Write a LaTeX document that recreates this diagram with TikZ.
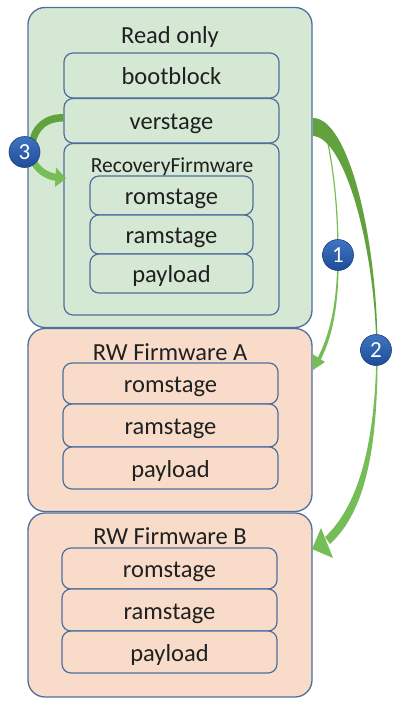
\documentclass[tikz,border=0pt]{standalone}
\usepackage{fontspec}
\setmainfont{Carlito}
\begin{document}
\begin{tikzpicture}[x=1pt,y=-1pt,
  outerbox/.style={draw=boxline, line width=1.3pt, rounded corners=17pt, inner sep=0pt, minimum width=284pt},
  part/.style={draw=boxline, line width=1.2pt, rounded corners=9pt, inner sep=0pt,
     text=txt, font=\fontsize{24.5}{28}\selectfont, text height=18pt, text depth=0pt},
  title/.style={anchor=base, text=txt, inner sep=0pt, font=\fontsize{24.5}{28}\selectfont},
  badge/.style={circle, draw=badgeline, line width=0.6pt, top color=badgetop, bottom color=badgebot,
     minimum size=31pt, inner sep=0pt, text=white, font=\fontsize{23}{24}\selectfont},
  darkarrow/.style={fill=arrdark, draw=none},
  lightarrow/.style={fill=arrlight, draw=none}]
\definecolor{gfill}{HTML}{D5E8D4}
\definecolor{pfill}{HTML}{F8DCC9}
\definecolor{boxline}{HTML}{4E6E9E}
\definecolor{txt}{HTML}{202020}
\definecolor{arrdark}{HTML}{62A23E}
\definecolor{arrlight}{HTML}{76BD57}
\definecolor{badgetop}{HTML}{3F74C2}
\definecolor{badgebot}{HTML}{1E4D98}
\definecolor{badgeline}{HTML}{1D3F7C}
\useasboundingbox (0,0) rectangle (400,707);

% outer regions
\node[outerbox, fill=gfill, minimum height=320pt] (ro) at (170,167.5) {};
\node[outerbox, fill=pfill, minimum height=183pt] (rwa) at (170,420) {};
\node[outerbox, fill=pfill, minimum height=184pt] (rwb) at (170,605) {};
\node[title] (rot) at (170,43) {Read only};
\node[title] (rwat) at (170,360) {RW Firmware A};
\node[title] (rwbt) at (170,544) {RW Firmware B};

% read-only contents
\node[part, fill=gfill, minimum width=215pt, minimum height=45pt] (boot) at (171.5,75.5) {bootblock};
\node[part, fill=gfill, minimum width=215pt, minimum height=44.5pt] (ver) at (171.5,120.75) {verstage};
\node[part, fill=gfill, minimum width=215pt, minimum height=171.5pt] (rec) at (171.5,229.25) {};
\node[title, font=\fontsize{21.5}{24}\selectfont] (rect) at (172,172.7) {RecoveryFirmware};
\node[part, fill=gfill, minimum width=163pt, minimum height=39pt] (rrom) at (171.5,195.5) {romstage};
\node[part, fill=gfill, minimum width=163pt, minimum height=39pt] (rram) at (171.5,234.5) {ramstage};
\node[part, fill=gfill, minimum width=163pt, minimum height=39pt] (rpay) at (171.5,273.5) {payload};

% RW A
\node[part, fill=pfill, minimum width=215pt, minimum height=41pt] (arom) at (170.5,383.5) {romstage};
\node[part, fill=pfill, minimum width=215pt, minimum height=43pt] (aram) at (170.5,425.5) {ramstage};
\node[part, fill=pfill, minimum width=215pt, minimum height=42pt] (apay) at (170.5,468) {payload};

% RW B
\node[part, fill=pfill, minimum width=215pt, minimum height=41pt] (brom) at (169.5,568.5) {romstage};
\node[part, fill=pfill, minimum width=215pt, minimum height=42pt] (bram) at (169.5,610) {ramstage};
\node[part, fill=pfill, minimum width=215pt, minimum height=42pt] (bpay) at (169.5,652) {payload};

% badge positions
\coordinate (b3c) at (24.5,152);
\coordinate (b1c) at (338,255);
\coordinate (b2c) at (376,350);

% arrow 1 (thin)
\draw[arrlight, line width=1.2pt] (326,134) .. controls (334,170) and (338,210) .. (b1c);
\fill[arrlight] (337.3,255) .. controls (337.3,300) and (331,333) .. (316.5,360)
   -- (319.5,362) .. controls (334,335) and (339,300) .. (338.7,255) -- cycle;
\fill[arrlight] (313,370) -- (312.5,354) -- (325,362) -- cycle;

% arrow 2 (thick, tapered)
\fill[darkarrow] (313,118) .. controls (348,118) and (377,235) .. (377.6,350)
   -- (376.4,350) .. controls (375,245) and (344,137) .. (313,136) -- cycle;
\fill[lightarrow] (377.6,350) .. controls (378,450) and (365,512) .. (330,544)
   -- (325,537) .. controls (356,508) and (375.5,450) .. (376.4,350) -- cycle;
\fill[lightarrow] (312,549) -- (321,528) -- (333,558) -- cycle;

% arrow 3 (verstage -> RecoveryFirmware)
\fill[darkarrow] (ver.west |- 0,114) .. controls (45,114) and (32,124) .. (29,142)
   -- (36,142) .. controls (39,129) and (48,121.5) .. (ver.west |- 0,121.5) -- cycle;
\fill[lightarrow] (29,160) .. controls (34,172) and (45,180) .. (57,181)
   -- (57,174) .. controls (47,172.5) and (40,167) .. (36,159) -- cycle;
\fill[lightarrow] (66,178.5) -- (56,167.5) -- (55,187) -- cycle;

% badges
\node[badge] (b3) at (b3c) {3};
\node[badge] (b1) at (b1c) {1};
\node[badge] (b2) at (b2c) {2};
\end{tikzpicture}
\end{document}
